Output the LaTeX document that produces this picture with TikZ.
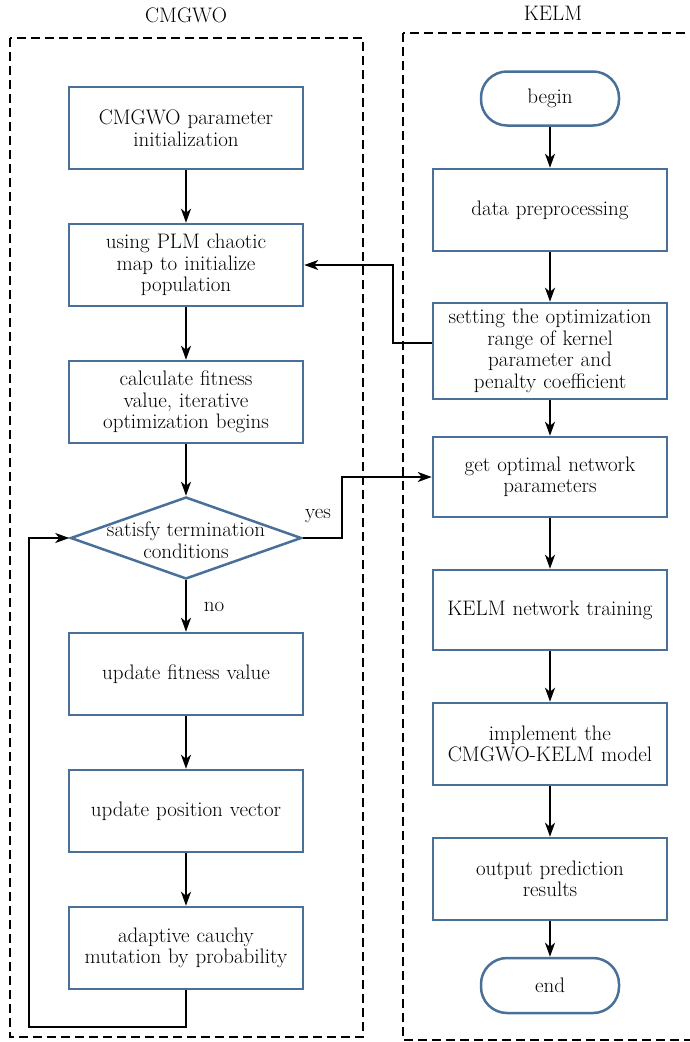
\documentclass[tikz,border=0pt]{standalone}
\usepackage{fontspec}
\usetikzlibrary{arrows.meta,shapes.geometric,calc}
\definecolor{boxblue}{RGB}{72,112,152}
\begin{document}
\begin{tikzpicture}[x=1pt,y=-1pt,
  txt/.style={font=\fontsize{21}{21.5}\selectfont},
  proc/.style={txt, draw=boxblue, line width=2.5pt, fill=white, minimum width=234pt, minimum height=82pt, text width=228pt, align=center, inner sep=0pt},
  term/.style={proc, rounded corners=26pt, minimum width=138pt, minimum height=54pt, text width=130pt},
  conn/.style={line width=1.8pt, -{Stealth[length=14pt,width=10pt,inset=4pt]}},
  frame/.style={dash pattern=on 9pt off 5pt, line width=1.3pt}]
\clip (0,0) rectangle (690,1042);
% frames
\draw[frame] (10,38) rectangle (363,1037);
\draw[frame] (403,33) rectangle (720,1040);
\node[txt] (t1) at (186,15) {CMGWO};
\node[txt] (t2) at (553,13) {KELM};
% left column
\node[proc] (b1) at (186,128) {CMGWO parameter\\initialization};
\node[proc] (b2) at (186,265) {using PLM chaotic\\map to initialize\\population};
\node[proc] (b3) at (186,402) {calculate fitness\\value, iterative\\optimization begins};
\node[diamond, draw=boxblue, line width=2.5pt, fill=white, minimum width=231pt, minimum height=82pt, inner sep=0pt] (dia) at (186,538) {};
\node[txt, align=center] (diat) at (186,540) {satisfy termination\\conditions};
\node[proc] (b5) at (186,674) {update fitness value};
\node[proc] (b6) at (186,811) {update position vector};
\node[proc] (b7) at (186,948) {adaptive cauchy\\mutation by probability};
% right column
\node[term] (beg) at (550,98.5) {begin};
\node[proc] (data) at (550,210) {data preprocessing};
\node[proc, minimum height=96pt] (set) at (550,351) {setting the optimization\\range of kernel\\parameter and\\penalty coefficient};
\node[proc, minimum height=80pt] (get) at (550,477) {get optimal network\\parameters};
\node[proc, minimum height=80pt] (train) at (550,610) {KELM network training};
\node[proc] (impl) at (550,744) {implement the\\CMGWO-KELM model};
\node[proc] (out) at (550,879) {output prediction\\results};
\node[term, minimum height=55pt] (fin) at (550,985.5) {end};
% labels
\node[txt] (yes) at (318,516) {yes};
\node[txt] (no) at (214,607) {no};
% connectors left
\draw[conn] (b1) -- (b2);
\draw[conn] (b2) -- (b3);
\draw[conn] (b3) -- (dia);
\draw[conn] (dia) -- (b5);
\draw[conn] (b5) -- (b6);
\draw[conn] (b6) -- (b7);
\draw[conn] (b7.south) -- (186,1027) -- (29,1027) -- (29,538) -- (dia.west);
% connectors right
\draw[conn] (beg) -- (data);
\draw[conn] (data) -- (set);
\draw[conn] (set) -- (get);
\draw[conn] (get) -- (train);
\draw[conn] (train) -- (impl);
\draw[conn] (impl) -- (out);
\draw[conn] (out) -- (fin);
% cross connectors
\draw[conn] (dia.east) -- (342,538) |- (get.west);
\draw[conn] ($(set.west)+(0,-8)$) -- (393,343) |- (b2.east);
\end{tikzpicture}
\end{document}
